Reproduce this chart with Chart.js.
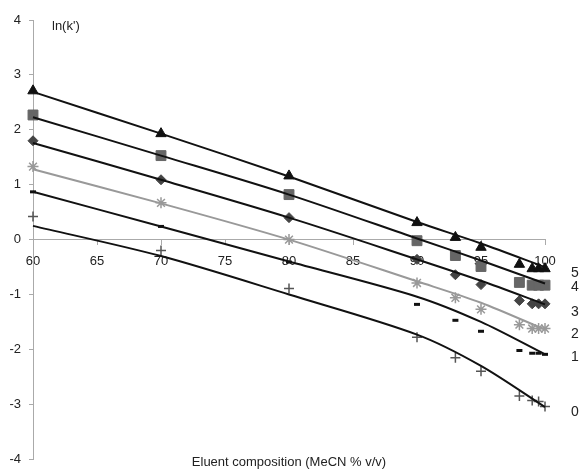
<!DOCTYPE html>
<html>
<head>
<meta charset="utf-8">
<script src="https://cdn.jsdelivr.net/npm/chart.js@4.4.0/dist/chart.umd.min.js"></script>
<style>
  body { margin: 0; background: #fff; }
  #wrap { width: 582px; height: 475px; }
</style>
</head>
<body>
<div id="wrap"><canvas id="lnkChart"></canvas></div>
<script>
// MeCN content of the eluent (% v/v)
const measuredX = [60, 70, 80, 90, 93, 95, 98, 99, 99.5, 100];
const fitX = [60, 70, 80, 90, 95, 100];
const xTicks = [60, 65, 70, 75, 80, 85, 90, 95, 100];
const yTicks = [-4, -3, -2, -1, 0, 1, 2, 3, 4];

// measured ln(k') per solute
const measured0 = [0.42, -0.2, -0.89, -1.78, -2.15, -2.4, -2.85, -2.93, -2.95, -3.04];
const measured1 = [0.87, 0.24, -0.41, -1.18, -1.47, -1.67, -2.02, -2.07, -2.07, -2.09];
const measured2 = [1.33, 0.67, 0.0, -0.79, -1.06, -1.27, -1.55, -1.62, -1.62, -1.62];
const measured3 = [1.8, 1.09, 0.4, -0.36, -0.64, -0.82, -1.11, -1.17, -1.17, -1.17];
const measured4 = [2.27, 1.53, 0.82, -0.02, -0.29, -0.49, -0.78, -0.83, -0.83, -0.83];
const measured5 = [2.71, 1.93, 1.16, 0.31, 0.04, -0.14, -0.45, -0.53, -0.53, -0.53];

// fitted curves
const fit0 = [0.25, -0.3, -1.0, -1.73, -2.3, -3.05];
const fit1 = [0.87, 0.24, -0.4, -1.04, -1.5, -2.09];
const fit2 = [1.28, 0.66, 0.0, -0.76, -1.15, -1.64];
const fit3 = [1.76, 1.09, 0.4, -0.36, -0.75, -1.18];
const fit4 = [2.23, 1.53, 0.82, 0.02, -0.38, -0.8];
const fit5 = [2.69, 1.93, 1.15, 0.32, -0.07, -0.5];

const seriesNames = ['0', '1', '2', '3', '4', '5'];

const measured = [measured0, measured1, measured2, measured3, measured4, measured5];
const fits = [fit0, fit1, fit2, fit3, fit4, fit5];

const markerStyles = [
  { pointStyle: 'cross', color: '#555', radius: 5, width: 1.5 },
  { pointStyle: 'line', color: '#111', radius: 3, width: 3 },
  { pointStyle: 'star', color: '#999', radius: 5.5, width: 1.5 },
  { pointStyle: 'rectRot', color: '#444', radius: 5, width: 1 },
  { pointStyle: 'rect', color: '#666', radius: 7, width: 1 },
  { pointStyle: 'triangle', color: '#111', radius: 6, width: 1 }
];
const lineColors = ['#111', '#111', '#999', '#111', '#111', '#111'];

// where the solute numbers sit at the right edge (px)
const endLabelY = [412, 357, 334, 312, 287, 273];

const pts = (xs, ys) => xs.map((x, i) => ({ x: x, y: ys[i] }));

const datasets = [];
fits.forEach((f, i) => {
  datasets.push({
    label: 'fit ' + seriesNames[i],
    data: pts(fitX, f),
    showLine: true,
    borderColor: lineColors[i],
    borderWidth: 2,
    pointRadius: 0,
    tension: 0.3,
    clip: false,
    order: 1
  });
});
measured.forEach((m, i) => {
  const s = markerStyles[i];
  datasets.push({
    label: seriesNames[i],
    data: pts(measuredX, m),
    showLine: false,
    pointStyle: s.pointStyle,
    pointRadius: s.radius,
    pointBorderWidth: s.width,
    pointBackgroundColor: s.color,
    pointBorderColor: s.color,
    clip: false,
    order: 2
  });
});

const FONT = '"Liberation Sans", Arial, sans-serif';

const annotate = {
  id: 'annotate',
  afterDraw(chart) {
    const { ctx, chartArea } = chart;
    ctx.save();
    ctx.fillStyle = '#222';
    ctx.font = '13px ' + FONT;
    ctx.textBaseline = 'middle';
    ctx.textAlign = 'left';
    ctx.fillText("ln(k')", chartArea.left + 19, chartArea.top + 6);
    ctx.textAlign = 'center';
    ctx.fillText('Eluent composition (MeCN % v/v)', (chartArea.left + chartArea.right) / 2, chartArea.bottom + 3);
    ctx.font = '14px ' + FONT;
    seriesNames.forEach((n, i) => {
      ctx.fillText(n, 575, endLabelY[i]);
    });
    ctx.restore();
  }
};

new Chart(document.getElementById('lnkChart'), {
  type: 'scatter',
  data: { datasets: datasets },
  plugins: [annotate],
  options: {
    responsive: true,
    maintainAspectRatio: false,
    animation: false,
    layout: { padding: { top: 20, right: 37, bottom: 15, left: 0 } },
    plugins: {
      legend: { display: false },
      tooltip: { enabled: false }
    },
    scales: {
      x: {
        type: 'linear',
        min: 60,
        max: 100,
        position: { y: 0 },
        afterFit: s => { s.height = 0; },
        afterBuildTicks: s => { s.ticks = xTicks.map(v => ({ value: v })); },
        border: { color: '#aaa', width: 1 },
        grid: { drawOnChartArea: false, tickLength: 5, color: '#aaa' },
        ticks: { color: '#222', padding: 9, font: { family: FONT, size: 13 }, maxRotation: 0, autoSkip: false }
      },
      y: {
        min: -4,
        max: 4,
        afterFit: s => { s.width = 33; },
        afterBuildTicks: s => { s.ticks = yTicks.map(v => ({ value: v })); },
        border: { color: '#aaa', width: 1 },
        grid: { drawOnChartArea: false, tickLength: 4, color: '#aaa' },
        ticks: { color: '#222', padding: 8, font: { family: FONT, size: 13 } }
      }
    }
  }
});
</script>
</body>
</html>
